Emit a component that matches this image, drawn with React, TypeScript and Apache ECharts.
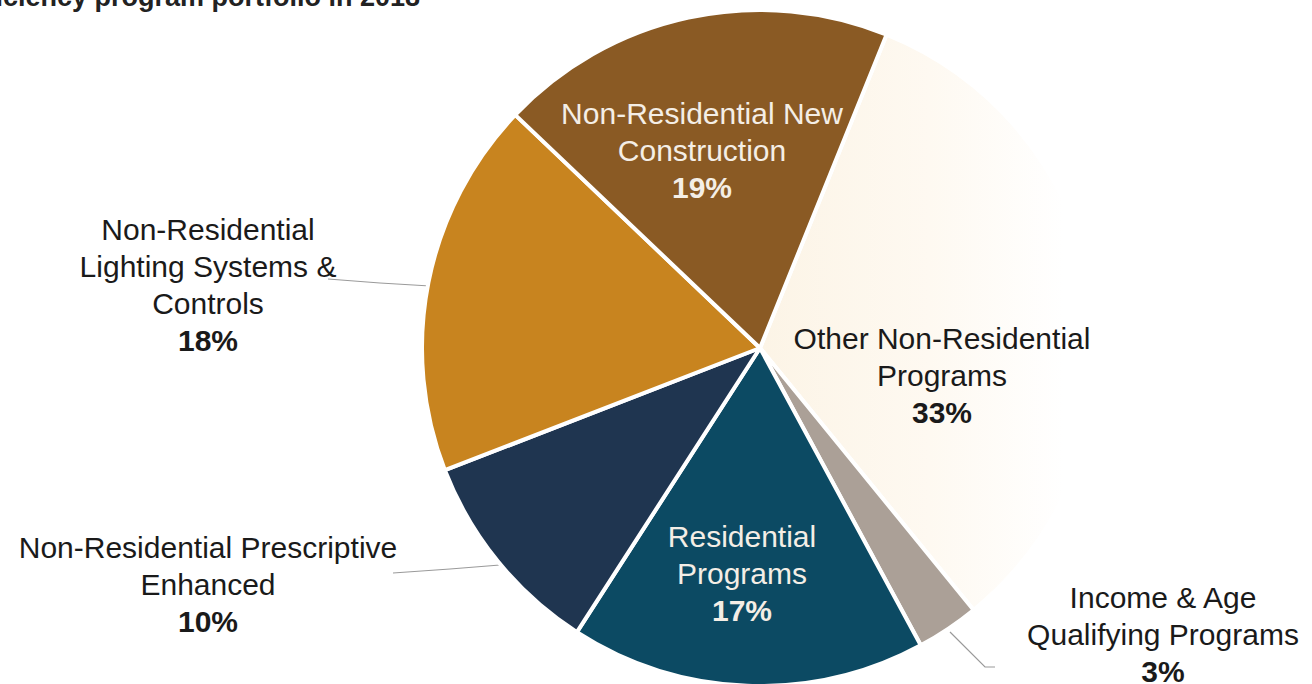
import React, { useEffect, useRef } from "react";
import * as echarts from "echarts";

const categories = [
  "Other Non-Residential Programs",
  "Income & Age Qualifying Programs",
  "Residential Programs",
  "Non-Residential Prescriptive Enhanced",
  "Non-Residential Lighting Systems & Controls",
  "Non-Residential New Construction",
];
const values = [33, 3, 17, 10, 18, 19];
const labelTexts = [
  "Other Non-Residential\nPrograms",
  "Income & Age\nQualifying Programs",
  "Residential\nPrograms",
  "Non-Residential Prescriptive\nEnhanced",
  "Non-Residential\nLighting Systems &\nControls",
  "Non-Residential New\nConstruction",
];
const titleText = "Efficiency program portfolio in 2018";

const sliceColors: any[] = [
  new echarts.graphic.LinearGradient(0, 0, 1, 0, [
    { offset: 0, color: "#FCF4E6" },
    { offset: 0.5, color: "#FEF9F1" },
    { offset: 0.9, color: "#FFFFFF" },
    { offset: 1, color: "#FFFFFF" },
  ]),
  "#ABA097",
  "#0C4A63",
  "#1F3550",
  "#C8841F",
  "#8A5A24",
];
const labelColors = ["#1a1a1a", "#1a1a1a", "#F4EEE6", "#1a1a1a", "#1a1a1a", "#F4EEE6"];
const outside = [false, true, false, true, true, false];
const labelPos: [number, number][] = [
  [942, 375],
  [1163, 634],
  [742, 573],
  [208, 584],
  [208, 285],
  [702, 150],
];
const linePts: any[] = [
  null,
  [[950, 632], [985, 667], [995, 667]],
  null,
  [[500, 565], [450, 569], [393, 573]],
  [[430, 286], [380, 283], [328, 279]],
  null,
];

export default function App() {
  const ref = useRef<HTMLDivElement>(null);
  useEffect(() => {
    const chart = echarts.init(ref.current!, null, { renderer: "svg" });
    const font = "'Liberation Sans', Arial, sans-serif";
    chart.setOption({
      animation: false,
      graphic: [
        {
          type: "text",
          x: 420,
          y: 10,
          style: {
            text: titleText,
            font: `bold 27px ${font}`,
            fill: "#222",
            textAlign: "right",
            textVerticalAlign: "bottom",
          },
        },
      ],
      series: [
        {
          type: "pie",
          center: [760, 348],
          radius: 338,
          startAngle: 68,
          clockwise: true,
          avoidLabelOverlap: false,
          itemStyle: { borderColor: "#ffffff", borderWidth: 4 },
          data: categories.map((name, i) => ({
            name,
            value: values[i],
            itemStyle: { color: sliceColors[i] },
            label: {
              show: true,
              position: outside[i] ? "outside" : "inside",
              color: labelColors[i],
              rich: {
                t: { fontFamily: font, fontSize: 30, lineHeight: 37, color: labelColors[i], align: "center" },
                b: { fontFamily: font, fontSize: 30, lineHeight: 37, fontWeight: "bold", color: labelColors[i], align: "center" },
              },
            },
            labelLine: {
              show: outside[i],
              lineStyle: { color: "#9a9a9a", width: 1.2 },
            },
          })),
          label: {
            formatter: (p: any) => `{t|${labelTexts[p.dataIndex]}}\n{b|${p.value}%}`,
            align: "center",
          },
          labelLayout: (params: any) => {
            const i = params.dataIndex;
            const res: any = {
              x: labelPos[i][0],
              y: labelPos[i][1],
              align: "center",
              verticalAlign: "middle",
            };
            if (linePts[i]) res.labelLinePoints = linePts[i];
            return res;
          },
        },
      ],
    });
    return () => chart.dispose();
  }, []);
  return (
    <div
      ref={ref}
      style={{ position: "fixed", left: 0, top: 0, width: 1312, height: 684, background: "#fff" }}
    />
  );
}
